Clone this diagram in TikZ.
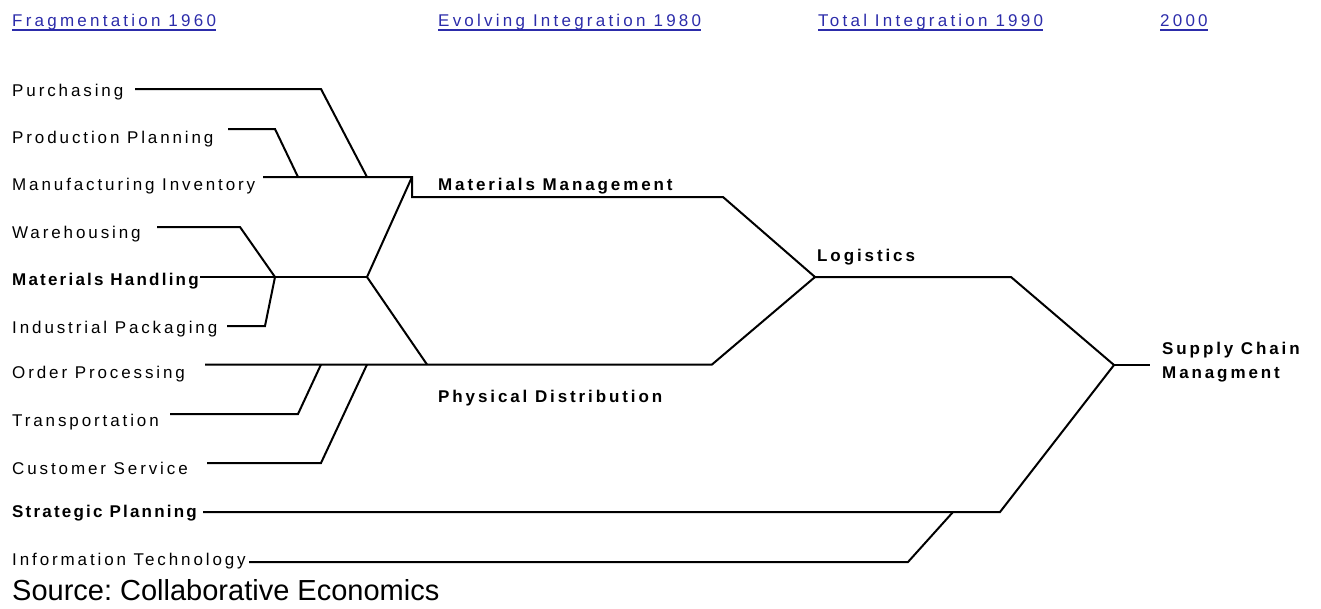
\documentclass[tikz,border=0pt]{standalone}
\usepackage{fontspec}
\setmainfont{Liberation Sans}
\newfontfamily\widefont{Liberation Sans}[LetterSpace=17]
\usepackage{xcolor}
\usepackage{tikz}
\usetikzlibrary{positioning}

\definecolor{hdrblue}{RGB}{44,44,170}

\tikzset{
  wire/.style={line width=2pt},
  lbl/.style={anchor=base west, inner sep=0pt, font=\widefont\fontsize{17}{24}\selectfont},
  lblb/.style={lbl, font=\widefont\fontsize{17}{24}\selectfont\bfseries},
  lblh/.style={lbl, font=\widefont\fontsize{17}{24}\selectfont\bfseries\addfontfeatures{LetterSpace=13}},
  stage/.style={lbl, text=hdrblue, font=\widefont\fontsize{17}{24}\selectfont\addfontfeatures{LetterSpace=19}},
}

\frenchspacing
\begin{document}
\begin{tikzpicture}[x=1pt, y=-1pt]
        \useasboundingbox (0,0) rectangle (1321,608);

        % era headings
        \node[stage] (h1) at (12,26) {Fragmentation 1960};
        \node[stage] (h2) at (438,26) {Evolving Integration 1980};
        \node[stage] (h3) at (818,26) {Total Integration 1990};
        \node[stage] (h4) at (1160,26) {2000};
        \foreach \h in {h1,h2,h3,h4}
          \draw[hdrblue, line width=1.3pt] ([yshift=-4pt]\h.base west) -- ([yshift=-4pt]\h.base east);

        % single functions
        \node[lbl]  (purch)    at (12,96.5) {Purchasing};
        \node[lbl]  (plan)     at (12,143)  {Production Planning};
        \node[lbl]  (manuf)    at (12,190)  {Manufacturing Inventory};
        \node[lbl]  (wareh)    at (12,238)  {Warehousing};
        \node[lblh] (handl)    at (12,285)  {Materials Handling};
        \node[lbl]  (pack)     at (12,333)  {Industrial Packaging};
        \node[lbl]  (order)    at (12,378)  {Order Processing};
        \node[lbl]  (transp)   at (12,426)  {Transportation};
        \node[lbl]  (cust)     at (12,474)  {Customer Service};
        \node[lblh] (strat)    at (12,517)  {Strategic Planning};
        \node[lbl]  (info)     at (12,565)  {Information Technology};

        % merged functions
        \node[lblb] (matman)   at (438,190.5) {Materials Management};
        \node[lblb] (physdist) at (438,402)   {Physical Distribution};
        \node[lblb] (logist)   at (817,261)   {Logistics};
        \node[lblb, anchor=north west, align=left] (scm) at (1162,342) {Supply Chain\\Managment};

        % line ends next to the labels
        \coordinate (purch-s)  at (135,89);
        \coordinate (plan-s)   at (228,129);
        \coordinate (manuf-s)  at (263,177);
        \coordinate (wareh-s)  at (157,227);
        \coordinate (handl-s)  at (200,277);
        \coordinate (pack-s)   at (227,326);
        \coordinate (order-s)  at (205,364.5);
        \coordinate (transp-s) at (170,414);
        \coordinate (cust-s)   at (207,463);
        \coordinate (strat-s)  at (203,512);
        \coordinate (info-s)   at (249,562);
        \coordinate (scm-s)    at (1150,365);

        % junctions
        \coordinate (planj)  at (298,177);
        \coordinate (purchj) at (367,177);
        \coordinate (mmfork) at (412,177);
        \coordinate (packj)  at (275,277);
        \coordinate (handj)  at (367,277);
        \coordinate (transj) at (321,364.5);
        \coordinate (custj)  at (367,364.5);
        \coordinate (pdj)    at (427,364.5);
        \coordinate (logj)   at (815,277);
        \coordinate (scmj)   at (1114,365);
        \coordinate (infoj)  at (953,512);
        \coordinate (stratj) at (1000,512);

        % materials side
        \draw[wire] (purch-s) -- (321,89) -- (purchj);
        \draw[wire] (plan-s) -- (275,129) -- (planj);
        \draw[wire] (manuf-s) -- (mmfork) -- (412,197) -- (723,197) -- (logj);
        \draw[wire] (wareh-s) -- (240,227) -- (packj);
        \draw[wire] (pack-s) -- (265,326) -- (packj);
        \draw[wire] (handl-s) -- (handj);
        \draw[wire] (mmfork) -- (handj) -- (pdj);

        % distribution side
        \draw[wire] (order-s) -- (712,364.5) -- (logj);
        \draw[wire] (transp-s) -- (298,414) -- (transj);
        \draw[wire] (cust-s) -- (321,463) -- (custj);

        % logistics into supply chain
        \draw[wire] (logj) -- (1011,277) -- (scmj);
        \draw[wire, line width=1.6pt] (scmj) -- (scm-s);
        \draw[wire] (strat-s) -- (stratj) -- (scmj);
        \draw[wire] (info-s) -- (908,562) -- (infoj);

        \node[anchor=base west, inner sep=0pt, font=\fontsize{29}{32}\selectfont] (src) at (12,600) {Source: Collaborative Economics};
\end{tikzpicture}
\end{document}
